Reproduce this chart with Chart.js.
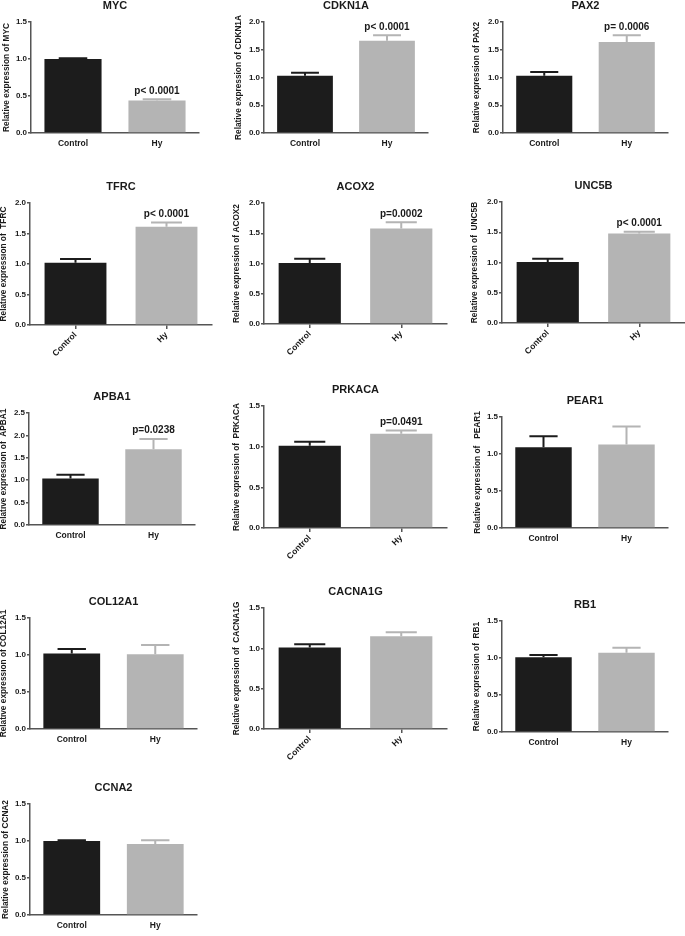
<!DOCTYPE html>
<html>
<head>
<meta charset="utf-8">
<script src="https://cdn.jsdelivr.net/npm/chart.js@4.4.1/dist/chart.umd.min.js"></script>
<style>
  html, body { margin: 0; padding: 0; background: #fff; }
  body { position: relative; width: 685px; height: 936px; overflow: hidden; }
  canvas { position: absolute; }
</style>
</head>
<body>
<script>
// qPCR panels - Control vs Hy
const genes = ['MYC', 'CDKN1A', 'PAX2', 'TFRC', 'ACOX2', 'UNC5B', 'APBA1', 'PRKACA', 'PEAR1', 'COL12A1', 'CACNA1G', 'RB1', 'CCNA2'];
const groups = ['Control', 'Hy'];
const controlMeans = [1.00, 1.03, 1.03, 1.02, 1.01, 1.01, 1.04, 1.01, 1.09, 1.02, 1.01, 1.01, 1.00];
const controlSem   = [0.01, 0.055, 0.07, 0.06, 0.07, 0.05, 0.08, 0.05, 0.15, 0.06, 0.04, 0.03, 0.01];
const hyMeans      = [0.44, 1.66, 1.64, 1.61, 1.58, 1.48, 1.69, 1.16, 1.13, 1.01, 1.15, 1.07, 0.96];
const hySem        = [0.015, 0.10, 0.12, 0.07, 0.10, 0.03, 0.23, 0.04, 0.24, 0.125, 0.05, 0.07, 0.05];
const yMaxes = [1.5, 2.0, 2.0, 2.0, 2.0, 2.0, 2.5, 1.5, 1.5, 1.5, 1.5, 1.5, 1.5];
const yStep = 0.5;
const pTexts = ['p< 0.0001', 'p< 0.0001', 'p= 0.0006', 'p< 0.0001', 'p=0.0002', 'p< 0.0001', 'p=0.0238', 'p=0.0491', '', '', '', '', ''];
const yTitles = [
  'Relative expression of MYC',
  'Relative expression of CDKN1A',
  'Relative expression of PAX2',
  'Relative expression of  TFRC',
  'Relative expression of ACOX2',
  'Relative expression of  UNC5B',
  'Relative expression of  APBA1',
  'Relative expression of  PRKACA',
  'Relative expression of   PEAR1',
  'Relative expression of COL12A1',
  'Relative expression of  CACNA1G',
  'Relative expression of  RB1',
  'Relative expression of CCNA2'
];

// where each panel sits on the page: [axis x, axis end x, top tick y, zero y, y-title centre x, rotated labels]
const panels = [
  [31, 199, 22, 133, 8, false],
  [264, 428, 22, 133, 240, false],
  [503, 668, 22, 133, 478, false],
  [30, 212, 203, 325, 5, true],
  [264, 447, 203, 324, 238, true],
  [502, 685, 202, 323, 476, true],
  [29, 195, 413, 525, 5, false],
  [264, 447, 406, 528, 238, true],
  [502, 668, 417, 528, 479, false],
  [30, 197, 618, 729, 5, false],
  [264, 447, 608, 729, 238, true],
  [502, 668, 621, 732, 478, false],
  [30, 197, 804, 915, 7, false]
];

const FONT = "'Liberation Sans', Arial, sans-serif";
const TEXT = '#1a1a1a';
const AXIS = '#555555';
const barColors = ['#1c1c1c', '#b4b4b4'];

Chart.defaults.font.family = FONT;
Chart.defaults.font.weight = 'bold';
Chart.defaults.color = TEXT;

// Error bars (upper whisker only), gene title and p value
const panelDecor = {
  id: 'panelDecor',
  afterDatasetsDraw(chart, args, opts) {
    const ctx = chart.ctx;
    const yScale = chart.scales.y;
    const meta = chart.getDatasetMeta(0);
    const area = chart.chartArea;

    meta.data.forEach((bar, i) => {
      const top = yScale.getPixelForValue(opts.means[i] + opts.sems[i]);
      const half = bar.width * 0.25;
      ctx.save();
      ctx.strokeStyle = barColors[i];
      ctx.lineWidth = 2;
      ctx.beginPath();
      ctx.moveTo(bar.x, bar.y);
      ctx.lineTo(bar.x, top);
      ctx.moveTo(bar.x - half, top);
      ctx.lineTo(bar.x + half, top);
      ctx.stroke();
      ctx.restore();
    });

    ctx.save();
    ctx.fillStyle = TEXT;
    ctx.textAlign = 'center';
    ctx.textBaseline = 'middle';
    ctx.font = 'bold 11px ' + FONT;
    ctx.fillText(opts.title, (area.left + area.right) / 2, area.top - 16.5);

    if (opts.pText) {
      const bar = meta.data[1];
      const top = yScale.getPixelForValue(opts.means[1] + opts.sems[1]);
      ctx.font = 'bold 10px ' + FONT;
      ctx.fillText(opts.pText, bar.x, top - 8.5);
    }
    ctx.restore();
  }
};

function drawPanel(i) {
  const [x0, x1, top, bottom, titleX, rotated] = panels[i];
  const left = titleX - 6;
  const canvasTop = top - 30;
  const right = Math.min(4, 685 - x1);
  const xHeight = rotated ? 42 : 18;
  const width = x1 - left + right;
  const height = bottom - canvasTop + xHeight;

  const canvas = document.createElement('canvas');
  canvas.width = width;
  canvas.height = height;
  canvas.style.left = left + 'px';
  canvas.style.top = canvasTop + 'px';
  canvas.style.width = width + 'px';
  canvas.style.height = height + 'px';
  document.body.appendChild(canvas);

  new Chart(canvas.getContext('2d'), {
    type: 'bar',
    data: {
      labels: groups,
      datasets: [{
        data: [controlMeans[i], hyMeans[i]],
        backgroundColor: barColors,
        borderWidth: 0,
        barPercentage: 0.68,
        categoryPercentage: 1
      }]
    },
    options: {
      responsive: false,
      animation: false,
      devicePixelRatio: 1,
      layout: { padding: { left: 0, top: top - canvasTop, right: right, bottom: 0 } },
      plugins: {
        legend: { display: false },
        tooltip: { enabled: false },
        panelDecor: {
          title: genes[i],
          pText: pTexts[i],
          means: [controlMeans[i], hyMeans[i]],
          sems: [controlSem[i], hySem[i]]
        }
      },
      scales: {
        x: {
          offset: true,
          grid: { display: rotated, offset: false, drawOnChartArea: false, tickLength: 4, color: AXIS, lineWidth: 1.5 },
          border: { display: true, color: AXIS, width: 1.5 },
          ticks: {
            color: TEXT,
            font: { size: 8.5, weight: 'bold' },
            minRotation: rotated ? 45 : 0,
            maxRotation: rotated ? 45 : 0,
            padding: rotated ? 1 : 2
          },
          afterFit(scale) { scale.height = xHeight; }
        },
        y: {
          min: 0,
          max: yMaxes[i],
          grid: { drawOnChartArea: false, tickLength: 3, color: AXIS, lineWidth: 1.5 },
          border: { display: true, color: AXIS, width: 1.5 },
          ticks: {
            stepSize: yStep,
            color: TEXT,
            padding: 1,
            font: { size: 8, weight: 'bold' },
            callback: v => v.toFixed(1)
          },
          title: {
            display: true,
            text: yTitles[i],
            color: TEXT,
            padding: 0,
            font: { size: 8.3, weight: 'bold' }
          },
          afterFit(scale) { scale.width = x0 - left; }
        }
      }
    },
    plugins: [panelDecor]
  });
}

genes.forEach((g, i) => drawPanel(i));
</script>
</body>
</html>
